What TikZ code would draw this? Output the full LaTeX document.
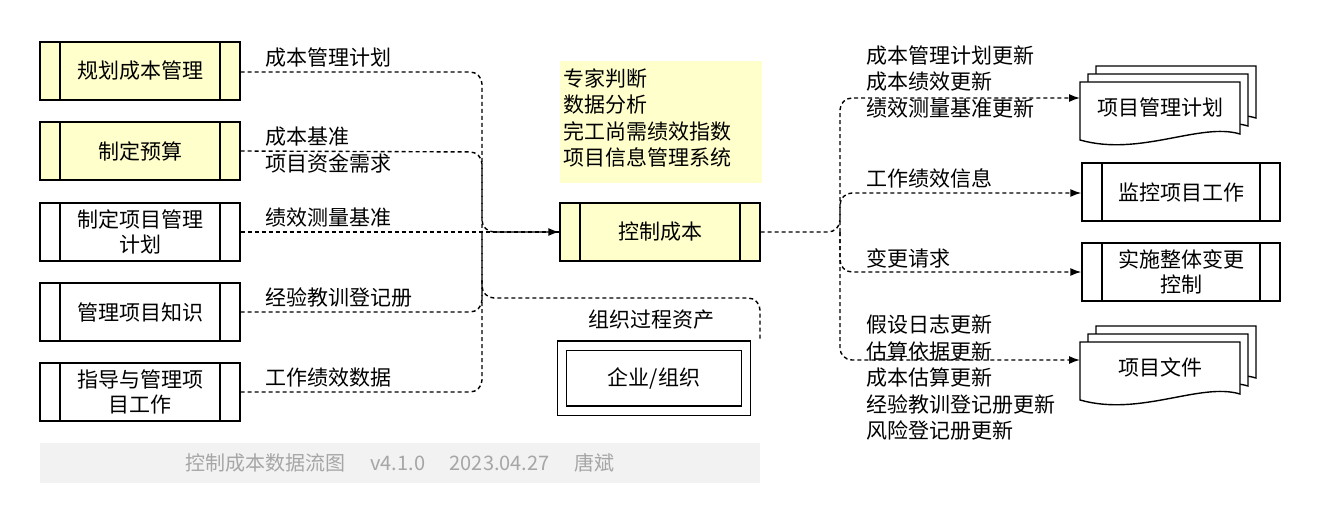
\documentclass[tikz,border=0pt]{standalone}
\usepackage{fontspec}
\setmainfont{Noto Sans CJK SC}
\usetikzlibrary{arrows.meta}
\definecolor{ly}{HTML}{FFFFCC}
\begin{document}
\begin{tikzpicture}[x=1pt,y=-1pt,
 box/.style={draw,line width=1.4pt,minimum width=200pt,minimum height=58pt,font=\fontsize{21}{25}\selectfont,align=center,inner sep=0pt},
 proc/.style={box,path picture={\draw[line width=1.4pt] ([xshift=20pt]path picture bounding box.north west)--([xshift=20pt]path picture bounding box.south west);\draw[line width=1.4pt] ([xshift=-20pt]path picture bounding box.north east)--([xshift=-20pt]path picture bounding box.south east);}},
 lbl/.style={anchor=west,font=\fontsize{21}{26.5}\selectfont,inner sep=0pt,align=left},
 flow/.style={line width=1.4pt,dash pattern=on 4pt off 3pt,rounded corners=12pt},
 arr/.style={flow,-{Latex[length=11pt,width=8pt]}}]
\useasboundingbox (0,0) rectangle (1322,524);
\node[proc,fill=ly] (a) at (140,71) {规划成本管理};
\node[proc,fill=ly] (b) at (140,151) {制定预算};
\node[proc] (c) at (140,232) {制定项目管理\\计划};
\node[proc] (d) at (140,312) {管理项目知识};
\node[proc] (e) at (140,392) {指导与管理项\\目工作};
\node[proc,fill=ly] (k) at (660,232) {控制成本};
\node[fill=ly,minimum width=202pt,minimum height=121pt] (t) at (661,122) {};
\node[lbl] (tt) at (563,118) {专家判断\\数据分析\\完工尚需绩效指数\\项目信息管理系统};
\node[box,double,double distance=8pt,minimum width=184pt,minimum height=65pt] (o) at (654,378) {企业/组织};
\node[lbl] (ol) at (588,320) {组织过程资产};
\node[proc,minimum width=198pt] (m) at (1181,192) {监控项目工作};
\node[proc,minimum width=198pt] (s) at (1181,272) {实施整体变更\\控制};
\newcommand\mdoc[3]{%
 \foreach \d in {16,8,0}{
 \draw[line width=1.4pt,fill=white] (#1+\d,#2-\d) -- (#1+160+\d,#2-\d) -- (#1+160+\d,#2+52-\d) .. controls (#1+120+\d,#2+40-\d) and (#1+60+\d,#2+75-\d) .. (#1+\d,#2+58-\d) -- cycle;}
 \node[font=\fontsize{21}{25}\selectfont] at (#1+80,#2+25) {#3};}
\mdoc{1080}{82}{项目管理计划}
\mdoc{1080}{342}{项目文件}
\coordinate (p) at (1080,98);
\coordinate (q) at (1080,360);
\draw[arr] (a.east|-0,72) -- (482,72) -- (482,232) -- (k.west);
\draw[flow] (b.east) -- (482,152) -- (482,232);
\draw[flow] (c.east) -- (k.west);
\draw[flow] (d.east) -- (482,312) -- (482,232);
\draw[flow] (e.east) -- (482,392) -- (482,232);
\draw[flow] (482,280) -- (482,298) -- (760,298) -- (760,340);
\draw[arr] (k.east) -- (840,232) -- (840,98) -- (p);
\draw[arr] (840,232) -- (840,193) -- (m.west|-0,193);
\draw[arr] (840,232) -- (840,272) -- (s.west);
\draw[arr] (840,232) -- (840,360) -- (q);
\node[lbl] at (265,58) {成本管理计划};
\node[lbl] at (265,150) {成本基准\\项目资金需求};
\node[lbl] at (265,218) {绩效测量基准};
\node[lbl] at (265,298) {经验教训登记册};
\node[lbl] at (265,378) {工作绩效数据};
\node[lbl] at (866,82) {成本管理计划更新\\成本绩效更新\\绩效测量基准更新};
\node[lbl] at (866,178) {工作绩效信息};
\node[lbl] at (866,258) {变更请求};
\node[lbl] at (866,378) {假设日志更新\\估算依据更新\\成本估算更新\\经验教训登记册更新\\风险登记册更新};
\node[fill=black!5,minimum width=720pt,minimum height=40pt,text=black!35,font=\fontsize{20}{24}\selectfont] (f) at (400,463) {控制成本数据流图\quad\ v4.1.0\quad\ 2023.04.27\quad\ 唐斌};
\end{tikzpicture}
\end{document}
